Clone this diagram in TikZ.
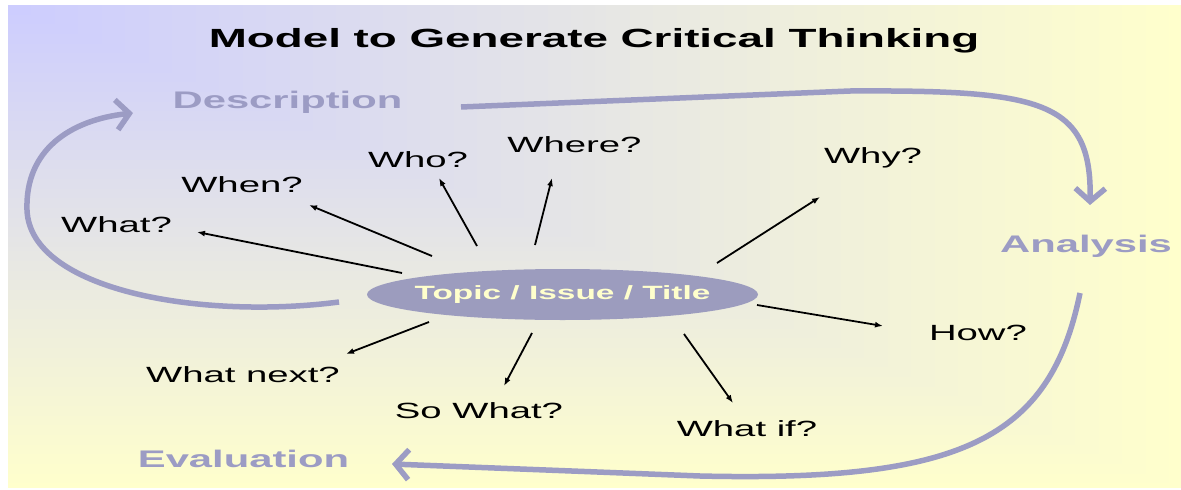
\documentclass[tikz,border=0pt]{standalone}
\usepackage{fontspec}
\setmainfont{Liberation Sans}[FakeStretch=1.74]
\usetikzlibrary{arrows.meta}
\usetikzlibrary{shapes.geometric}

\definecolor{bglav}{RGB}{204,204,255}
\definecolor{bgyel}{RGB}{255,255,204}
\definecolor{lav}{RGB}{156,156,196}
\definecolor{topicfill}{RGB}{156,156,190}

\begin{document}
\begin{tikzpicture}[%
  x=1pt, y=-1pt,
  >={Latex[length=8pt,width=6pt]},
  question/.style={font=\fontsize{22}{26}\selectfont, anchor=base, inner sep=0pt},
  stage/.style={font=\fontsize{24}{28}\selectfont\bfseries, text=lav, anchor=base, inner sep=0pt},
  spoke/.style={->, line width=1.8pt},
  bigarc/.style={draw=lav, line width=5.5pt, -{Straight Barb[length=13pt,width=30pt]}},
]

  \useasboundingbox (0,0) rectangle (1181,490);
  \fill[white] (0,0) rectangle (1181,490);
  \foreach \i in {100,...,1}
    \fill[bgyel!\i!bglav] (8,5) rectangle ({8+11.73*\i},{5+4.83*\i});

  \node[font=\fontsize{26.3}{30}\selectfont\bfseries, anchor=base] (title) at (594,47)
    {Model to Generate Critical Thinking};

  \node[ellipse, fill=topicfill, minimum width=391pt, minimum height=51pt,
    inner xsep=-16pt, inner ysep=0pt,
    text=bgyel, font=\fontsize{19.2}{22}\selectfont\bfseries] (topic) at (562.5,294.5)
    {Topic / Issue / Title};

  \node[stage] (desc) at (287.5,108) {Description};
  \node[stage] (anal) at (1086,252) {Analysis};
  \node[stage] (eval) at (243.5,467) {Evaluation};

  \node[question] (what) at (116.5,232) {What?};
  \node[question] (when) at (242,192) {When?};
  \node[question] (who) at (418,167) {Who?};
  \node[question] (where) at (574.5,152) {Where?};
  \node[question] (why) at (873,163) {Why?};
  \node[question] (how) at (978,340) {How?};
  \node[question] (whatif) at (747,436) {What if?};
  \node[question] (sowhat) at (479,418) {So What?};
  \node[question] (whatnext) at (243,382) {What next?};

  \coordinate (what-s) at (402,273);
  \coordinate (what-e) at (197,232);
  \coordinate (when-s) at (432,256);
  \coordinate (when-e) at (309,205);
  \coordinate (who-s) at (477,246);
  \coordinate (who-e) at (439,178);
  \coordinate (where-s) at (535,245);
  \coordinate (where-e) at (552,178);
  \coordinate (why-s) at (717,263);
  \coordinate (why-e) at (820,197);
  \coordinate (how-s) at (757,305);
  \coordinate (how-e) at (883,326);
  \coordinate (whatif-s) at (684,334);
  \coordinate (whatif-e) at (733,403);
  \coordinate (sowhat-s) at (532,333);
  \coordinate (sowhat-e) at (504,386);
  \coordinate (whatnext-s) at (429,322);
  \coordinate (whatnext-e) at (346,354);

  \draw[spoke] (what-s) -- (what-e);
  \draw[spoke] (when-s) -- (when-e);
  \draw[spoke] (who-s) -- (who-e);
  \draw[spoke] (where-s) -- (where-e);
  \draw[spoke] (why-s) -- (why-e);
  \draw[spoke] (how-s) -- (how-e);
  \draw[spoke] (whatif-s) -- (whatif-e);
  \draw[spoke] (sowhat-s) -- (sowhat-e);
  \draw[spoke] (whatnext-s) -- (whatnext-e);

  \coordinate (desc-out) at (461,107);
  \coordinate (desc-top) at (850,91);
  \coordinate (anal-in) at (1090,205);
  \coordinate (anal-out) at (1080,293);
  \coordinate (eval-low) at (700,476);
  \coordinate (eval-in) at (392,464);
  \coordinate (topic-out) at (339,302);
  \coordinate (left-turn) at (27,210);
  \coordinate (desc-in) at (133,113);

  \draw[bigarc] (desc-out) -- (desc-top) .. controls (1040,90) and (1092,100) .. (anal-in);
  \draw[bigarc] (anal-out) .. controls (1050,440) and (960,482) .. (eval-low) -- (eval-in);
  \draw[bigarc] (topic-out) .. controls (200,320) and (30,290) .. (left-turn)
    .. controls (25,150) and (70,120) .. (desc-in);

\end{tikzpicture}
\end{document}
